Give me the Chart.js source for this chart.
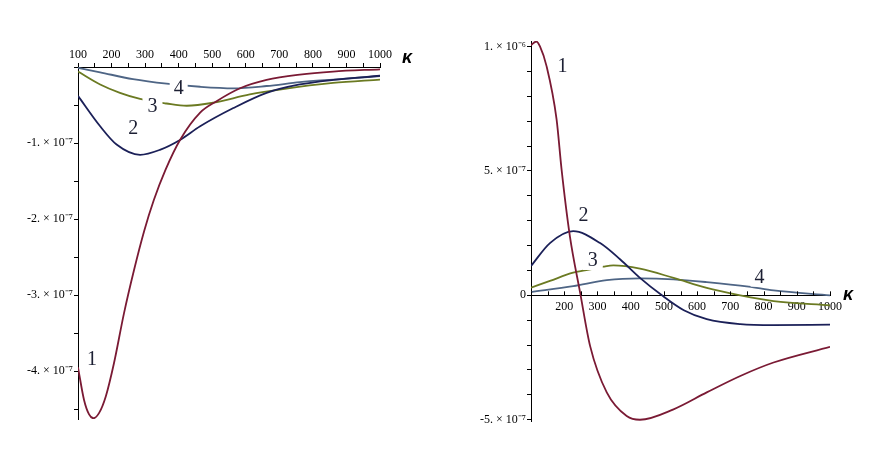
<!DOCTYPE html>
<html lang="en">
<head>
<meta charset="UTF-8">
<title>Curves 1-4 versus kappa</title>
<script src="https://cdn.jsdelivr.net/npm/chart.js"></script>
<style>
  html, body { margin: 0; padding: 0; background: #fff; }
  .panel { position: absolute; top: 0; height: 476px; }
  #left { left: 0; width: 440px; }
  #right { left: 440px; width: 438px; }
</style>
</head>
<body>
<div class="panel" id="left"><canvas id="chartLeft"></canvas></div>
<div class="panel" id="right"><canvas id="chartRight"></canvas></div>
<script>
// all values are in units of 1e-7, x is kappa
const leftK1 = [100, 118, 133, 146, 163, 183, 207, 237, 267, 297, 326, 361, 404, 464, 513, 583, 662, 761, 860, 1000];
const leftV1 = [-3.95, -4.38, -4.57, -4.62, -4.55, -4.33, -3.9, -3.24, -2.67, -2.16, -1.75, -1.35, -0.96, -0.6, -0.45, -0.28, -0.17, -0.10, -0.06, -0.03];
const leftK2 = [100, 166, 215, 285, 344, 404, 464, 563, 662, 761, 861, 1000];
const leftV2 = [-0.38, -0.78, -1.02, -1.155, -1.09, -0.96, -0.78, -0.54, -0.34, -0.23, -0.17, -0.115];
const leftK3 = [100, 166, 225, 285, 364, 424, 503, 612, 711, 860, 1000];
const leftV3 = [-0.06, -0.23, -0.34, -0.42, -0.48, -0.51, -0.47, -0.36, -0.29, -0.21, -0.165];
const leftK4 = [100, 166, 264, 364, 464, 563, 662, 761, 861, 1000];
const leftV4 = [-0.01, -0.07, -0.16, -0.22, -0.26, -0.28, -0.25, -0.20, -0.165, -0.12];

const rightK1 = [100, 116, 127, 147, 177, 192, 217, 248, 278, 328, 388, 428, 529, 629, 730, 830, 1000];
const rightV1 = [10.05, 10.2, 10.0, 9.2, 7.07, 5.06, 2.38, 0.1, -2.04, -3.9, -4.85, -5.0, -4.58, -3.9, -3.24, -2.7, -2.07];
const rightK2 = [100, 157, 227, 308, 368, 428, 494, 560, 629, 730, 830, 1000];
const rightV2 = [1.18, 2.1, 2.58, 2.1, 1.45, 0.7, 0, -0.6, -0.96, -1.16, -1.2, -1.18];
const rightK3 = [100, 157, 227, 262, 318, 348, 428, 529, 629, 730, 830, 1000];
const rightV3 = [0.31, 0.58, 0.91, 1.0, 1.15, 1.2, 1.07, 0.7, 0.3, 0, -0.23, -0.4];
const rightK4 = [100, 227, 328, 428, 529, 629, 755, 830, 1000];
const rightV4 = [0.13, 0.37, 0.61, 0.68, 0.64, 0.53, 0.35, 0.2, 0];

const curveNames = ['1', '2', '3', '4'];
const curveColors = ['#7a1a34', '#1b2058', '#6b7a22', '#4e6585'];

const serif = "'Liberation Serif', 'Times New Roman', serif";
const tickFont = { family: serif, size: 12 };

function pts(ks, vs) {
  return ks.map((k, i) => ({ x: k, y: vs[i] }));
}

function makeSets(list) {
  return list.map((d, i) => ({
    label: curveNames[i],
    data: pts(d[0], d[1]),
    borderColor: curveColors[i],
    borderWidth: 1.8,
    pointRadius: 0,
    fill: false,
    cubicInterpolationMode: 'monotone'
  }));
}

const isInt = v => Math.abs(v - Math.round(v)) < 1e-9;

// curve numbers and the kappa sign
const curveText = {
  id: 'curveText',
  afterDatasetsDraw(chart, args, opts) {
    const { ctx } = chart;
    const x = chart.scales.x, y = chart.scales.y;
    ctx.save();
    ctx.font = '20px ' + serif;
    ctx.textAlign = 'center';
    ctx.textBaseline = 'middle';
    opts.labels.forEach(l => {
      const px = x.getPixelForValue(l.k), py = y.getPixelForValue(l.v);
      if (l.gap) {
        ctx.fillStyle = '#fff';
        ctx.fillRect(px - l.gap / 2, py - 9, l.gap, 18);
      }
      ctx.fillStyle = '#1c1f33';
      ctx.fillText(l.text, px, py);
    });
    ctx.font = "italic bold 18px 'Liberation Sans', Arial, sans-serif";
    ctx.fillStyle = '#000';
    ctx.textAlign = 'left';
    ctx.fillText('κ', x.right + opts.kappa.dx, y.getPixelForValue(0) + opts.kappa.dy);
    // upward tick marks on a floating x axis
    if (opts.upTicks) {
      const y0 = y.getPixelForValue(0);
      ctx.strokeStyle = '#000';
      ctx.lineWidth = 1;
      x.ticks.forEach(t => {
        const px = Math.round(x.getPixelForValue(t.value)) + 0.5;
        ctx.beginPath();
        ctx.moveTo(px, y0);
        ctx.lineTo(px, y0 - 4);
        ctx.stroke();
      });
    }
    ctx.restore();
  }
};

new Chart(document.getElementById('chartLeft'), {
  type: 'line',
  data: {
    datasets: makeSets([[leftK1, leftV1], [leftK2, leftV2], [leftK3, leftV3], [leftK4, leftV4]])
  },
  options: {
    responsive: true,
    maintainAspectRatio: false,
    animation: false,
    layout: { padding: { top: 0, left: 0, right: 60, bottom: 57 } },
    plugins: {
      legend: { display: false },
      tooltip: { enabled: false },
      curveText: {
        labels: [
          { text: '1', k: 142, v: -3.85 },
          { text: '2', k: 265, v: -0.81 },
          { text: '3', k: 322, v: -0.52, gap: 20 },
          { text: '4', k: 400, v: -0.29, gap: 18 }
        ],
        kappa: { dx: 22, dy: -9 }
      }
    },
    scales: {
      x: {
        type: 'linear',
        position: 'top',
        min: 100,
        max: 1000,
        afterFit: s => { s.height = 67; },
        border: { color: '#000' },
        grid: { drawOnChartArea: false, color: '#000', tickLength: 4 },
        ticks: {
          stepSize: 50,
          autoSkip: false,
          maxRotation: 0,
          color: '#000',
          font: tickFont,
          padding: 1,
          callback: v => (v % 100 === 0 ? String(v) : '')
        }
      },
      y: {
        min: -4.63,
        max: 0,
        afterFit: s => { s.width = 78; },
        border: { color: '#000' },
        grid: { drawOnChartArea: false, color: '#000', tickLength: 4 },
        ticks: {
          stepSize: 0.5,
          includeBounds: false,
          color: '#000',
          font: tickFont,
          padding: 1,
          callback: v => (isInt(v) && Math.round(v) !== 0 ? Math.round(v) + '. × 10⁻⁷' : '')
        }
      }
    }
  },
  plugins: [curveText]
});

new Chart(document.getElementById('chartRight'), {
  type: 'line',
  data: {
    datasets: makeSets([[rightK1, rightV1], [rightK2, rightV2], [rightK3, rightV3], [rightK4, rightV4]])
  },
  options: {
    responsive: true,
    maintainAspectRatio: false,
    animation: false,
    layout: { padding: { top: 41, left: 0, right: 48, bottom: 55 } },
    plugins: {
      legend: { display: false },
      tooltip: { enabled: false },
      curveText: {
        labels: [
          { text: '1', k: 195, v: 9.2 },
          { text: '2', k: 258, v: 3.18 },
          { text: '3', k: 286, v: 1.38, gap: 20 },
          { text: '4', k: 788, v: 0.71, gap: 18 }
        ],
        kappa: { dx: 13, dy: 0 },
        upTicks: true
      }
    },
    scales: {
      x: {
        type: 'linear',
        position: { y: 0 },
        min: 100,
        max: 1000,
        border: { color: '#000' },
        grid: { display: false, drawTicks: false },
        ticks: {
          stepSize: 50,
          autoSkip: false,
          maxRotation: 0,
          color: '#000',
          font: tickFont,
          padding: 4,
          callback: v => (v % 100 === 0 && v > 100 ? String(v) : '')
        }
      },
      y: {
        min: -5.05,
        max: 10.22,
        afterFit: s => { s.width = 91; },
        border: { color: '#000' },
        grid: { drawOnChartArea: false, color: '#000', tickLength: 4 },
        ticks: {
          stepSize: 1,
          includeBounds: false,
          color: '#000',
          font: tickFont,
          padding: 1,
          callback: v => {
            const r = Math.round(v);
            if (!isInt(v) || r % 5 !== 0) return '';
            if (r === 0) return '0';
            if (r === 10) return '1. × 10⁻⁶';
            return r + '. × 10⁻⁷';
          }
        }
      }
    }
  },
  plugins: [curveText]
});
</script>
</body>
</html>
